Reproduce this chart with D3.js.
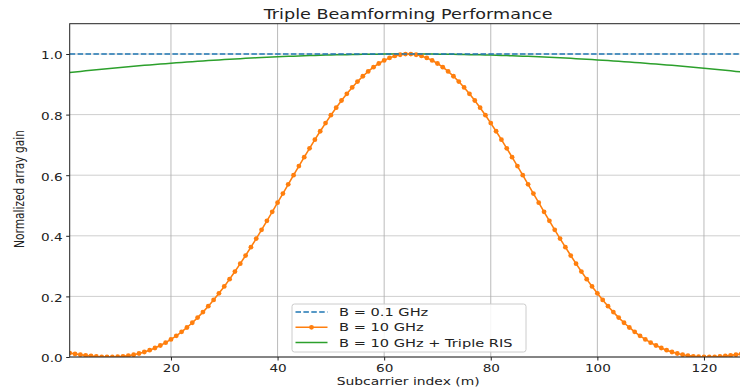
<!DOCTYPE html>
<html>
<head>
<meta charset="utf-8">
<script src="https://cdn.jsdelivr.net/npm/d3@7"></script>
<style>
  html, body { margin: 0; padding: 0; background: #fff; }
  svg { display: block; }
  text { font-family: "DejaVu Sans", sans-serif; fill: #222; }
</style>
</head>
<body>
<svg id="chart" width="740" height="391"></svg>
<script>
// ---------------- data ----------------
const title = "Triple Beamforming Performance";
const xLabel = "Subcarrier index (m)";
const yLabel = "Normalized array gain";
const seriesNames = ["B = 0.1 GHz", "B = 10 GHz", "B = 10 GHz + Triple RIS"];
const xTicks = [20, 40, 60, 80, 100, 120];
const yTicks = [0.0, 0.2, 0.4, 0.6, 0.8, 1.0];
const subcarriers = d3.range(1, 129);

const gainNarrow = [
  1.0,1.0,1.0,1.0,1.0,1.0,1.0,1.0, 1.0,1.0,1.0,1.0,1.0,1.0,1.0,1.0,
  1.0,1.0,1.0,1.0,1.0,1.0,1.0,1.0, 1.0,1.0,1.0,1.0,1.0,1.0,1.0,1.0,
  1.0,1.0,1.0,1.0,1.0,1.0,1.0,1.0, 1.0,1.0,1.0,1.0,1.0,1.0,1.0,1.0,
  1.0,1.0,1.0,1.0,1.0,1.0,1.0,1.0, 1.0,1.0,1.0,1.0,1.0,1.0,1.0,1.0,
  1.0,1.0,1.0,1.0,1.0,1.0,1.0,1.0, 1.0,1.0,1.0,1.0,1.0,1.0,1.0,1.0,
  1.0,1.0,1.0,1.0,1.0,1.0,1.0,1.0, 1.0,1.0,1.0,1.0,1.0,1.0,1.0,1.0,
  1.0,1.0,1.0,1.0,1.0,1.0,1.0,1.0, 1.0,1.0,1.0,1.0,1.0,1.0,1.0,1.0,
  1.0,1.0,1.0,1.0,1.0,1.0,1.0,1.0, 1.0,1.0,1.0,1.0,1.0,1.0,1.0,1.0
];

const gainWide = [
  0.0131,0.0103,0.0077,0.0054,0.0034,0.0018,0.0007,0.0001,
  0.0001,0.0008,0.0022,0.0044,0.0075,0.0115,0.0165,0.0225,
  0.0297,0.0379,0.0474,0.0580,0.0699,0.0830,0.0974,0.1131,
  0.1300,0.1482,0.1676,0.1883,0.2101,0.2330,0.2570,0.2820,
  0.3080,0.3349,0.3625,0.3909,0.4198,0.4493,0.4791,0.5092,
  0.5395,0.5698,0.6000,0.6300,0.6596,0.6887,0.7173,0.7451,
  0.7720,0.7980,0.8228,0.8465,0.8687,0.8896,0.9090,0.9265,
  0.9424,0.9565,0.9687,0.9789,0.9872,0.9935,0.9976,0.9997,
  0.9997,0.9976,0.9935,0.9872,0.9789,0.9687,0.9565,0.9424,
  0.9265,0.9090,0.8896,0.8687,0.8465,0.8228,0.7980,0.7720,
  0.7451,0.7173,0.6887,0.6596,0.6300,0.6000,0.5698,0.5395,
  0.5092,0.4791,0.4493,0.4198,0.3909,0.3625,0.3349,0.3080,
  0.2820,0.2570,0.2330,0.2101,0.1883,0.1676,0.1482,0.1300,
  0.1131,0.0974,0.0830,0.0699,0.0580,0.0474,0.0379,0.0297,
  0.0225,0.0165,0.0115,0.0075,0.0044,0.0022,0.0008,0.0001,
  0.0001,0.0007,0.0018,0.0034,0.0054,0.0077,0.0103,0.0131
];

const gainRIS = [
  0.9389,0.9407,0.9426,0.9444,0.9462,0.9479,0.9497,0.9514,
  0.9530,0.9547,0.9563,0.9579,0.9594,0.9610,0.9625,0.9640,
  0.9654,0.9668,0.9682,0.9696,0.9709,0.9722,0.9735,0.9748,
  0.9760,0.9772,0.9783,0.9795,0.9806,0.9816,0.9827,0.9837,
  0.9847,0.9856,0.9865,0.9874,0.9883,0.9891,0.9899,0.9907,
  0.9914,0.9922,0.9928,0.9935,0.9941,0.9947,0.9952,0.9958,
  0.9963,0.9967,0.9972,0.9976,0.9979,0.9983,0.9986,0.9989,
  0.9991,0.9993,0.9995,0.9997,0.9998,0.9999,1.0000,1.0000,
  1.0000,1.0000,0.9999,0.9998,0.9997,0.9995,0.9993,0.9991,
  0.9989,0.9986,0.9983,0.9979,0.9976,0.9972,0.9967,0.9963,
  0.9958,0.9952,0.9947,0.9941,0.9935,0.9928,0.9922,0.9914,
  0.9907,0.9899,0.9891,0.9883,0.9874,0.9865,0.9856,0.9847,
  0.9837,0.9827,0.9816,0.9806,0.9795,0.9783,0.9772,0.9760,
  0.9748,0.9735,0.9722,0.9709,0.9696,0.9682,0.9668,0.9654,
  0.9640,0.9625,0.9610,0.9594,0.9579,0.9563,0.9547,0.9530,
  0.9514,0.9497,0.9479,0.9462,0.9444,0.9426,0.9407,0.9389
];

const colors = ["#1f77b4", "#ff7f0e", "#2ca02c"];

// ---------------- layout ----------------
const svg = d3.select("#chart");
const plot = { left: 69.7, right: 746.6, top: 23.7, bottom: 357 };
const K = 0.76; // vertical squeeze of text as in reference

const x = d3.scaleLinear().domain([1, 128]).range([plot.left, plot.right]);
const y = d3.scaleLinear().domain([0, 1.1]).range([plot.bottom, plot.top]);

svg.append("defs").append("clipPath").attr("id", "clip")
  .append("rect")
  .attr("x", plot.left).attr("y", plot.top)
  .attr("width", plot.right - plot.left).attr("height", plot.bottom - plot.top);

// grid
const grid = svg.append("g");
grid.selectAll(".vg").data(xTicks).join("line")
  .attr("x1", d => x(d)).attr("x2", d => x(d))
  .attr("y1", plot.top).attr("y2", plot.bottom)
  .attr("stroke", "#b0b0b0").attr("stroke-width", 1).attr("opacity", 0.85);
grid.selectAll(".hg").data(yTicks).join("line")
  .attr("y1", d => y(d)).attr("y2", d => y(d))
  .attr("x1", plot.left).attr("x2", plot.right)
  .attr("stroke", "#b0b0b0").attr("stroke-width", 1).attr("opacity", 0.6);

// series
const lines = svg.append("g").attr("clip-path", "url(#clip)");
const lineGen = d3.line().x((d, i) => x(subcarriers[i])).y(d => y(d));

lines.append("path").datum(gainRIS)
  .attr("d", lineGen).attr("fill", "none")
  .attr("stroke", colors[2]).attr("stroke-width", 1.5);

lines.append("path").datum(gainWide)
  .attr("d", lineGen).attr("fill", "none")
  .attr("stroke", colors[1]).attr("stroke-width", 1.6);
lines.append("g").selectAll("circle").data(gainWide).join("circle")
  .attr("cx", (d, i) => x(subcarriers[i])).attr("cy", d => y(d))
  .attr("r", 2.4).attr("fill", colors[1]);

lines.append("path").datum(gainNarrow)
  .attr("d", lineGen).attr("fill", "none")
  .attr("stroke", colors[0]).attr("stroke-width", 1.5)
  .attr("stroke-dasharray", "5.5,2.4");

// axes frame
svg.append("rect")
  .attr("x", plot.left).attr("y", plot.top)
  .attr("width", plot.right - plot.left).attr("height", plot.bottom - plot.top)
  .attr("fill", "none").attr("stroke", "#222").attr("stroke-width", 1);

// axes with d3
const xAxis = d3.axisBottom(x).tickValues(xTicks).tickSize(3.5).tickPadding(3).tickFormat(d3.format("d"));
const yAxis = d3.axisLeft(y).tickValues(yTicks).tickSize(3.5).tickPadding(3).tickFormat(d3.format(".1f"));

const gx = svg.append("g").attr("transform", `translate(0,${plot.bottom})`).call(xAxis);
const gy = svg.append("g").attr("transform", `translate(${plot.left},0)`).call(yAxis);
[gx, gy].forEach(g => {
  g.select(".domain").remove();
  g.selectAll(".tick line").attr("stroke", "#222");
  g.selectAll(".tick text").attr("font-size", 13.6).attr("fill", "#222")
    .attr("font-family", "DejaVu Sans");
});
gx.selectAll(".tick text").attr("dy", null).attr("y", null)
  .attr("transform", `translate(0,15) scale(1,${K})`);
gy.selectAll(".tick text").attr("x", null).attr("dy", null)
  .attr("transform", `translate(-7,4.8) scale(1,${K})`);

// title & labels
svg.append("text").text(title)
  .attr("text-anchor", "middle").attr("font-size", 17.6)
  .attr("transform", `translate(${(plot.left + plot.right) / 2},19) scale(1,${K})`);
svg.append("text").text(xLabel)
  .attr("text-anchor", "middle").attr("font-size", 13.9)
  .attr("transform", `translate(${(plot.left + plot.right) / 2},384.5) scale(1,${K})`);
svg.append("text").text(yLabel)
  .attr("text-anchor", "middle").attr("font-size", 14)
  .attr("font-family", "Liberation Sans Narrow, DejaVu Sans Condensed, sans-serif")
  .attr("transform", `translate(24,189) scale(1,${K}) rotate(-90)`);

// legend
const lg = svg.append("g");
lg.append("rect")
  .attr("x", 292).attr("y", 304).attr("width", 234).attr("height", 48)
  .attr("rx", 2.5).attr("fill", "#fff").attr("fill-opacity", 0.85)
  .attr("stroke", "#cccccc").attr("stroke-width", 1);
const rowY = [312, 327.3, 342.6];
seriesNames.forEach((name, i) => {
  const ry = rowY[i];
  const l = lg.append("line").attr("x1", 295.5).attr("x2", 327.5)
    .attr("y1", ry).attr("y2", ry)
    .attr("stroke", colors[i]).attr("stroke-width", 1.5);
  if (i === 0) l.attr("stroke-dasharray", "5.5,2.4");
  if (i === 1) lg.append("circle").attr("cx", 311.5).attr("cy", ry).attr("r", 2.4).attr("fill", colors[i]);
  lg.append("text").text(name).attr("font-size", 14.6)
    .attr("transform", `translate(339,${ry + 4}) scale(1,${K})`);
});
</script>
</body>
</html>
